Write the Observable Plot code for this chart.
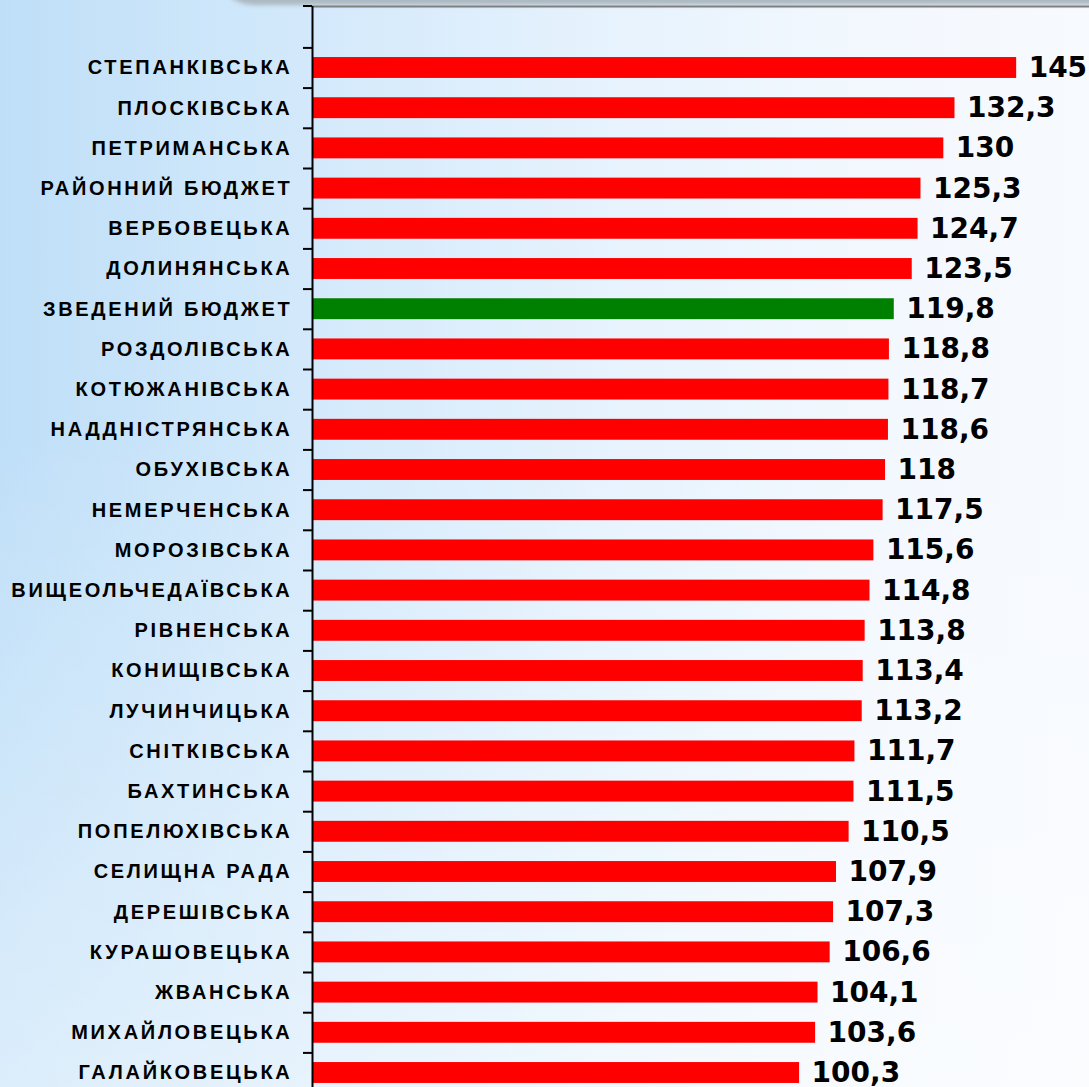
<!DOCTYPE html>
<html>
<head>
<meta charset="utf-8">
<script src="https://cdn.jsdelivr.net/npm/d3@7"></script>
<script src="https://cdn.jsdelivr.net/npm/@observablehq/plot@0.6"></script>
<style>
  html, body { margin: 0; padding: 0; }
  body {
    width: 1089px; height: 1087px; overflow: hidden; position: relative;
    background:
      linear-gradient(to bottom, rgba(255,255,255,0) 0%, rgba(255,255,255,0) 40%, rgba(255,255,255,0.45) 100%),
      linear-gradient(to right, #bfdff8 0%, #d3e9fb 28%, #e6f2fd 55%, #f3f8fe 80%, #f7fafe 100%);
    font-family: "Liberation Sans", Arial, sans-serif;
  }
  #shadow {
    position: absolute; left: 214px; top: -40px; right: -20px; height: 45px;
    background: linear-gradient(to bottom, #c9d4dc, #aab6bf);
    border-bottom-left-radius: 40px;
    filter: blur(2px);
  }
  #chart { position: absolute; left: 0; top: 0; }
</style>
</head>
<body>
<div id="shadow"></div>
<div id="chart"></div>
<script>
const names = [
  "СТЕПАНКІВСЬКА", "ПЛОСКІВСЬКА", "ПЕТРИМАНСЬКА", "РАЙОННИЙ БЮДЖЕТ", "ВЕРБОВЕЦЬКА",
  "ДОЛИНЯНСЬКА", "ЗВЕДЕНИЙ БЮДЖЕТ", "РОЗДОЛІВСЬКА", "КОТЮЖАНІВСЬКА", "НАДДНІСТРЯНСЬКА",
  "ОБУХІВСЬКА", "НЕМЕРЧЕНСЬКА", "МОРОЗІВСЬКА", "ВИЩЕОЛЬЧЕДАЇВСЬКА", "РІВНЕНСЬКА",
  "КОНИЩІВСЬКА", "ЛУЧИНЧИЦЬКА", "СНІТКІВСЬКА", "БАХТИНСЬКА", "ПОПЕЛЮХІВСЬКА",
  "СЕЛИЩНА РАДА", "ДЕРЕШІВСЬКА", "КУРАШОВЕЦЬКА", "ЖВАНСЬКА", "МИХАЙЛОВЕЦЬКА", "ГАЛАЙКОВЕЦЬКА"
];
const values = [
  145, 132.3, 130, 125.3, 124.7,
  123.5, 119.8, 118.8, 118.7, 118.6,
  118, 117.5, 115.6, 114.8, 113.8,
  113.4, 113.2, 111.7, 111.5, 110.5,
  107.9, 107.3, 106.6, 104.1, 103.6, 100.3
];
const highlighted = "ЗВЕДЕНИЙ БЮДЖЕТ";

const data = names.map((name, i) => ({name, value: values[i]}));
const fmt = v => String(v).replace(".", ",");

const W = 1089, H = 1087;
const topTick = (index, scales, values, dims) => {
  const ns = "http://www.w3.org/2000/svg";
  const line = document.createElementNS(ns, "line");
  line.setAttribute("x1", dims.marginLeft - 9);
  line.setAttribute("x2", dims.marginLeft);
  line.setAttribute("y1", dims.marginTop);
  line.setAttribute("y2", dims.marginTop);
  line.setAttribute("stroke", "black");
  line.setAttribute("stroke-width", 2);
  return line;
};

const plot = Plot.plot({
  width: W,
  height: H,
  marginLeft: 312,
  marginRight: 0,
  marginTop: 6,
  marginBottom: 0,
  style: {background: "transparent", fontFamily: "'Liberation Sans', Arial, sans-serif", color: "black", overflow: "hidden"},
  x: {domain: [0, 160], axis: null},
  y: {domain: names, range: [47.4, 1092.6], paddingInner: 0.48, paddingOuter: 0.24, round: false, label: null},
  color: {type: "identity"},
  marks: [
    Plot.frame({anchor: "top", stroke: "#808080", strokeWidth: 2}),
    Plot.barX(data, {
      x: "value", y: "name",
      fill: d => d.name === highlighted ? "#008000" : "#ff0000"
    }),
    Plot.ruleX([0], {stroke: "black", strokeWidth: 2}),
    Plot.axisY({tickSize: 9, dy: -20.1, text: null, stroke: "black", strokeWidth: 2}),
    Plot.axisY({tickSize: 0, tickPadding: 20, fontSize: 20, fontWeight: "bold", fill: "black", label: null}),
    topTick,
    Plot.text(data, {
      x: "value", y: "name", text: d => fmt(d.value),
      textAnchor: "start", dx: 12, fontSize: 28, fontWeight: "bold", fill: "black",
      fontFamily: "'DejaVu Sans', sans-serif"
    })
  ]
});

plot.querySelectorAll('g[aria-label="y-axis tick label"] text').forEach(t => t.style.letterSpacing = "2.7px");
document.getElementById("chart").appendChild(plot);
</script>
</body>
</html>
